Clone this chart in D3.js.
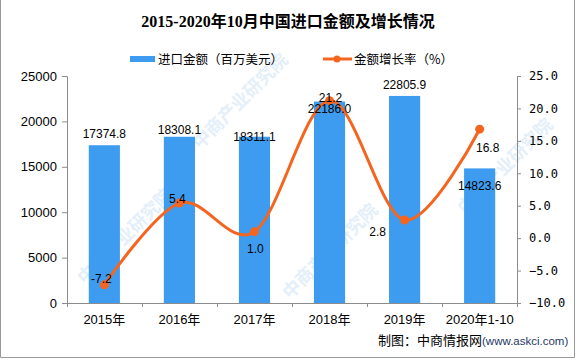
<!DOCTYPE html>
<html><head><meta charset="utf-8">
<script src="https://cdn.jsdelivr.net/npm/d3@7"></script>
<style>html,body{margin:0;padding:0;background:#fff;}svg{display:block;}</style>
</head><body>
<script>
const categories = ["2015年","2016年","2017年","2018年","2019年","2020年1-10"];
const importValues = [17374.8, 18308.1, 18311.1, 22186.0, 22805.9, 14823.6];
const growthRates = [-7.2, 5.4, 1.0, 21.2, 2.8, 16.8];
const leftTicks = [0, 5000, 10000, 15000, 20000, 25000];
const rightTicks = [-10, -5, 0, 5, 10, 15, 20, 25];
// label nudges (px) to mirror the reference's label placement
const barLabelDy = [-7, -3, 4, 11, -7, 22];
const lineLabelDx = [-3, -2, 1, 1, -27, 8];
const lineLabelDy = [-2, 0, 21, 1, 16, 23];

const W = 576, H = 359;
const m = {left: 67, right: 59, top: 76, bottom: 56};
const svg = d3.select("body").append("svg").attr("width", W).attr("height", H);
const axisColor = "#8c8c8c";
const barColor = "#3d9cf0";
const lineColor = "#f4661f";
const numFont = "'Liberation Sans', Arial, sans-serif";
const cjkFont = "'Liberation Sans', 'Noto Sans CJK SC', sans-serif";

// faint watermarks
const wm = svg.append("g").attr("fill", "#e4eff9").attr("font-family", "'Noto Sans CJK SC', sans-serif")
  .attr("font-size", 18).attr("font-weight", "bold");
const wmPos = [[85,285],[290,300],[465,215],[200,150]];
wmPos.forEach(([px,py]) => {
  wm.append("text").attr("transform", `translate(${px},${py}) rotate(-45)`).text("中商产业研究院");
});

const x = d3.scaleBand().domain(categories).range([m.left, W - m.right]).paddingInner(0.585).paddingOuter(0.29);
const yL = d3.scaleLinear().domain([0, 25000]).range([H - m.bottom, m.top]);
const yR = d3.scaleLinear().domain([-10, 25]).range([H - m.bottom, m.top]);
const xc = d => x(d) + x.bandwidth() / 2;

// bars
svg.append("g").selectAll("rect").data(importValues).join("rect")
  .attr("x", (d,i) => x(categories[i]))
  .attr("y", d => yL(d))
  .attr("width", x.bandwidth())
  .attr("height", d => yL(0) - yL(d))
  .attr("fill", barColor);

// axes
const gL = svg.append("g").attr("transform", `translate(${m.left},0)`)
  .call(d3.axisLeft(yL).tickValues(leftTicks).tickSize(5).tickPadding(5).tickFormat(d3.format("d")));
const gR = svg.append("g").attr("transform", `translate(${W - m.right},0)`)
  .call(d3.axisRight(yR).tickValues(rightTicks).tickSize(4).tickPadding(8).tickFormat(d3.format(".1f")));
const xb = d3.scaleLinear().domain([0, categories.length]).range([m.left, W - m.right]);
const gX = svg.append("g").attr("transform", `translate(0,${H - m.bottom})`)
  .call(d3.axisBottom(xb).tickValues(d3.range(0, categories.length + 1)).tickSize(4).tickFormat(""));
[gL, gR, gX].forEach(g => {
  g.selectAll("path,line").attr("stroke", axisColor);
  g.selectAll("text").attr("fill", "#000").attr("font-family", numFont).attr("font-size", 13);
});
gR.selectAll("text").attr("font-family", "'DejaVu Sans Mono', monospace").attr("font-size", 12);

// x labels
svg.append("g").selectAll("text").data(categories).join("text")
  .attr("x", d => xc(d)).attr("y", H - m.bottom + 21)
  .attr("text-anchor", "middle").attr("font-family", cjkFont).attr("font-size", 13)
  .text(d => d);

// line
const line = d3.line().x((d,i) => xc(categories[i])).y(d => yR(d)).curve(d3.curveCardinal.tension(0));
svg.append("path").datum(growthRates).attr("d", line)
  .attr("fill", "none").attr("stroke", lineColor).attr("stroke-width", 3);
svg.append("g").selectAll("circle").data(growthRates).join("circle")
  .attr("cx", (d,i) => xc(categories[i])).attr("cy", d => yR(d)).attr("r", 4.5).attr("fill", lineColor);

// bar labels
svg.append("g").selectAll("text").data(importValues).join("text")
  .attr("x", (d,i) => xc(categories[i])).attr("y", (d,i) => yL(d) + barLabelDy[i])
  .attr("text-anchor", "middle").attr("font-family", numFont).attr("font-size", 12)
  .text(d => d.toFixed(1));

// line labels
svg.append("g").selectAll("text").data(growthRates).join("text")
  .attr("x", (d,i) => xc(categories[i]) + lineLabelDx[i]).attr("y", (d,i) => yR(d) + lineLabelDy[i])
  .attr("text-anchor", "middle").attr("font-family", numFont).attr("font-size", 12)
  .text(d => d.toFixed(1));

// title
svg.append("text").attr("x", 288).attr("y", 27).attr("text-anchor", "middle")
  .attr("font-family", "'Liberation Serif', 'Noto Sans CJK SC', serif").attr("font-weight", "bold").attr("font-size", 16)
  .text("2015-2020年10月中国进口金额及增长情况");

// legend
const lg = svg.append("g");
lg.append("rect").attr("x", 130).attr("y", 56).attr("width", 25).attr("height", 6).attr("fill", barColor);
lg.append("text").attr("x", 158).attr("y", 63.5).attr("font-family", "'Noto Sans CJK SC', sans-serif").attr("font-size", 12.5).text("进口金额（百万美元）");
lg.append("line").attr("x1", 323).attr("x2", 352).attr("y1", 59).attr("y2", 59).attr("stroke", lineColor).attr("stroke-width", 3);
lg.append("circle").attr("cx", 337).attr("cy", 59).attr("r", 3.5).attr("fill", lineColor);
lg.append("text").attr("x", 354).attr("y", 63.5).attr("font-family", "'Noto Sans CJK SC', sans-serif").attr("font-size", 12.5).text("金额增长率（%）");

// source
const src = svg.append("text").attr("x", 378).attr("y", 345).attr("font-family", "'Noto Sans CJK SC', sans-serif").attr("font-size", 13);
src.append("tspan").text("制图：中商情报网");
src.append("tspan").attr("font-family", "'Liberation Sans', Arial, sans-serif").attr("font-size", 11.5).attr("fill", "#1f3864").text("(www.askci.com)");

// border
svg.append("path").attr("d", `M0.5,0 V${H-1.5} H${W-1.5} V0`).attr("fill", "none").attr("stroke", "#999");
</script>
</body></html>
